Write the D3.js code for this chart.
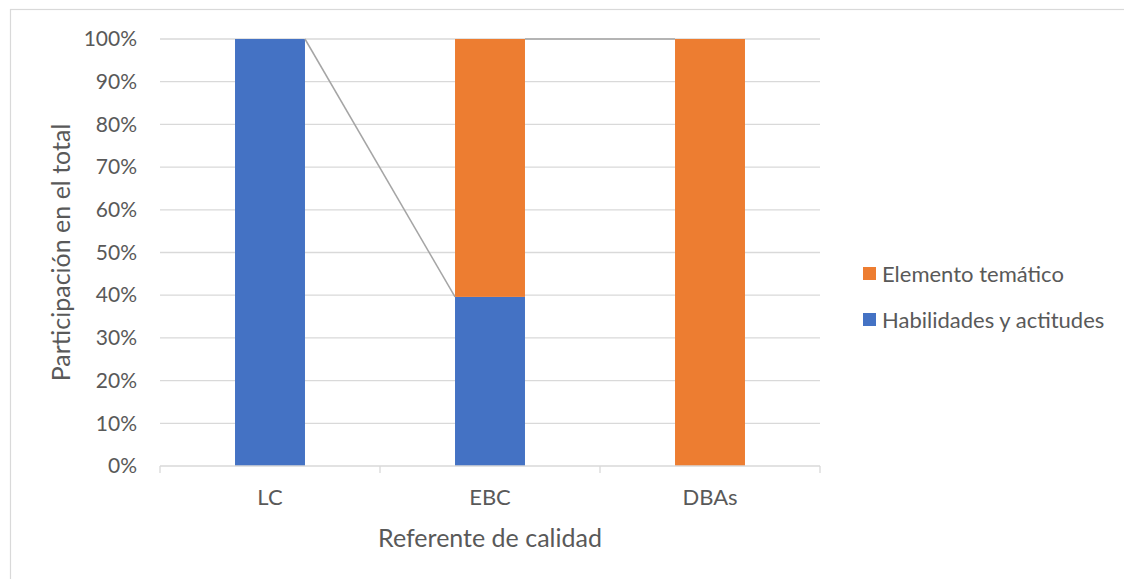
<!DOCTYPE html>
<html>
<head>
<meta charset="utf-8">
<script src="https://cdn.jsdelivr.net/npm/d3@7"></script>
<style>
  html, body { margin: 0; padding: 0; background: #fff; }
  svg { display: block; font-family: Lato, "Open Sans", sans-serif; }
</style>
</head>
<body>
<svg id="chart" width="1124" height="579"></svg>
<script>
// Quality references and the share of each element type (percent of total)
const categories = ["LC", "EBC", "DBAs"];
const seriesNames = ["Habilidades y actitudes", "Elemento temático"];
const habilidades = [100, 39.6, 0];
const elementoTematico = [0, 60.4, 100];
const yTicks = [0, 10, 20, 30, 40, 50, 60, 70, 80, 90, 100];
const colors = ["#4472C4", "#ED7D31"];

const svg = d3.select("#chart");
const W = 1124, H = 579;
const plot = { left: 160, right: 820, top: 39, bottom: 466 };
const textColor = "#595959";
const gridColor = "#D9D9D9";

// Outer chart frame
svg.append("rect")
  .attr("x", 10.5).attr("y", 9.5)
  .attr("width", W + 20).attr("height", H + 20)
  .attr("fill", "none").attr("stroke", gridColor).attr("stroke-width", 1.2);

const x = d3.scaleBand().domain(categories)
  .range([plot.left, plot.right]).paddingInner(0.682).paddingOuter(0.341);
const y = d3.scaleLinear().domain([0, 100]).range([plot.bottom, plot.top]);

// Stacked layout
const rows = categories.map((c, i) => ({ cat: c, h: habilidades[i], e: elementoTematico[i] }));
const stack = d3.stack().keys(["h", "e"])(rows);

// Horizontal gridlines
svg.append("g")
  .selectAll("line").data(yTicks.filter(t => t > 0)).join("line")
  .attr("x1", plot.left).attr("x2", plot.right)
  .attr("y1", d => y(d)).attr("y2", d => y(d))
  .attr("stroke", gridColor).attr("stroke-width", 1.3);

// Y axis labels
const yAxis = svg.append("g").attr("transform", `translate(${plot.left},0)`)
  .call(d3.axisLeft(y).tickValues(yTicks).tickFormat(d => d + "%").tickSize(0).tickPadding(23));
yAxis.select(".domain").remove();
yAxis.selectAll("text").attr("fill", textColor).style("font-size", "21px")
  .style("font-family", "Lato, sans-serif");

// Bars
stack.forEach((layer, si) => {
  svg.append("g").selectAll("rect").data(layer).join("rect")
    .attr("x", d => x(d.data.cat))
    .attr("width", x.bandwidth())
    .attr("y", d => y(d[1]))
    .attr("height", d => y(d[0]) - y(d[1]))
    .attr("fill", colors[si]);
});

// Series lines joining the top of each series between neighbouring bars
const seriesLines = svg.append("g");
stack.forEach((layer, si) => {
  const vals = si === 0 ? habilidades : elementoTematico;
  for (let i = 0; i < layer.length - 1; i++) {
    if (vals[i] > 0 && vals[i + 1] > 0) {
      seriesLines.append("line")
        .attr("x1", x(categories[i]) + x.bandwidth())
        .attr("y1", y(layer[i][1]))
        .attr("x2", x(categories[i + 1]))
        .attr("y2", y(layer[i + 1][1]))
        .attr("stroke", "#A5A5A5").attr("stroke-width", 1.5);
    }
  }
});

// X axis line and category ticks
svg.append("line")
  .attr("x1", plot.left).attr("x2", plot.right)
  .attr("y1", plot.bottom).attr("y2", plot.bottom)
  .attr("stroke", gridColor).attr("stroke-width", 1.3);
const boundaries = categories.map((c, i) => plot.left + i * x.step()).concat([plot.right]);
svg.append("g").selectAll("line").data(boundaries).join("line")
  .attr("x1", d => d).attr("x2", d => d)
  .attr("y1", plot.bottom).attr("y2", plot.bottom + 7)
  .attr("stroke", gridColor).attr("stroke-width", 1.3);

svg.append("g").selectAll("text").data(categories).join("text")
  .attr("x", d => x(d) + x.bandwidth() / 2)
  .attr("y", 505)
  .attr("text-anchor", "middle")
  .attr("fill", textColor).style("font-size", "22px")
  .text(d => d);

// Axis titles
svg.append("text")
  .attr("x", (plot.left + plot.right) / 2).attr("y", 547)
  .attr("text-anchor", "middle").attr("fill", textColor)
  .style("font-size", "25px").text("Referente de calidad");

svg.append("text")
  .attr("transform", `translate(70,${(plot.top + plot.bottom) / 2}) rotate(-90)`)
  .attr("text-anchor", "middle").attr("fill", textColor)
  .style("font-size", "25px").text("Participación en el total");

// Legend (top series listed first)
const legendItems = [
  { name: seriesNames[1], color: colors[1] },
  { name: seriesNames[0], color: colors[0] }
];
const legend = svg.append("g");
legendItems.forEach((d, i) => {
  const cy = 274 + i * 46;
  legend.append("rect")
    .attr("x", 863).attr("y", cy - 7).attr("width", 13).attr("height", 13)
    .attr("fill", d.color);
  legend.append("text")
    .attr("x", 882).attr("y", cy + 8)
    .attr("fill", textColor).style("font-size", "22px")
    .text(d.name);
});
</script>
</body>
</html>
